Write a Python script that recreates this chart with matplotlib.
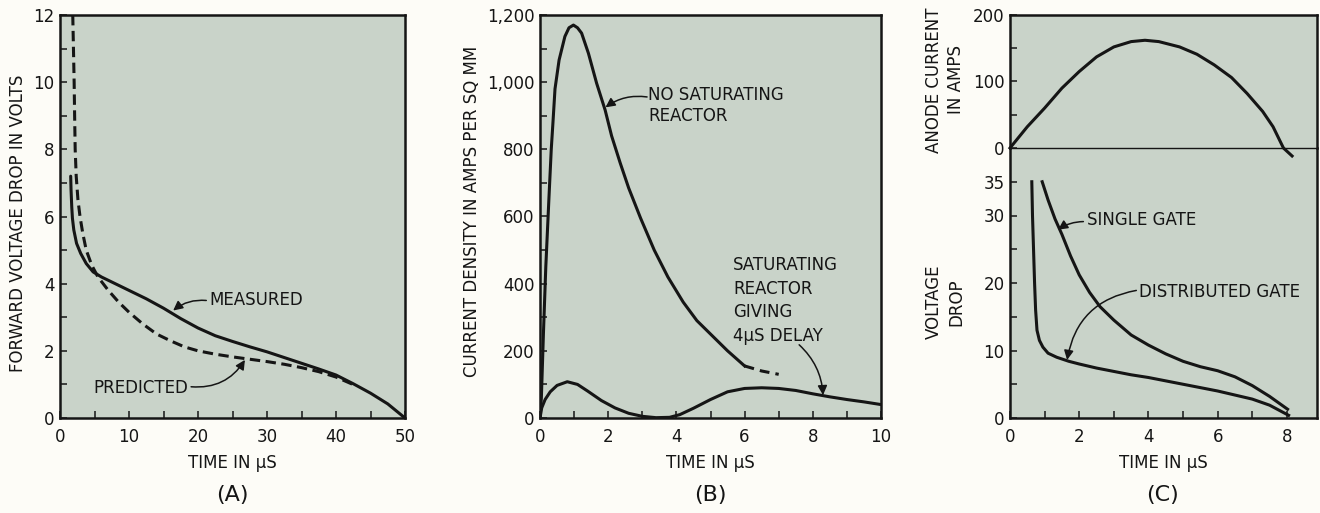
import matplotlib
matplotlib.use("Agg")
import matplotlib.pyplot as plt
from matplotlib.ticker import MultipleLocator, FixedLocator, FuncFormatter

# ---- (A) forward voltage drop vs time ----
a_meas_t = [1.55, 1.6, 1.7, 1.8, 2.0, 2.4, 3.0, 3.8, 4.8, 6.0, 8.0, 10, 12.5, 15, 17.5, 20,
            22.5, 25, 27.5, 30, 32.5, 35, 37.5, 40, 42.5, 45, 47.5, 50]
a_meas_v = [7.2, 6.8, 6.3, 5.95, 5.6, 5.2, 4.9, 4.6, 4.35, 4.2, 4.0, 3.8, 3.55, 3.27, 2.96, 2.68,
            2.45, 2.28, 2.12, 1.97, 1.8, 1.63, 1.46, 1.28, 1.02, 0.74, 0.42, 0.0]
a_pred_t = [1.85, 1.95, 2.05, 2.12, 2.2, 2.35, 2.6, 2.9, 3.3, 3.8, 4.6, 5.5, 7.0, 8.5, 10, 12,
            14, 16, 18, 20, 22.5, 25, 27.5, 30, 32.5, 35, 37.5, 40, 43]
a_pred_v = [12.0, 11.0, 10.0, 9.0, 8.0, 7.2, 6.5, 6.0, 5.5, 5.0, 4.55, 4.2, 3.8, 3.45, 3.15, 2.8,
            2.5, 2.3, 2.12, 2.0, 1.9, 1.82, 1.75, 1.68, 1.6, 1.5, 1.38, 1.22, 0.95]

# ---- (B) current density vs time ----
b_nosat_t = [0, 0.04, 0.1, 0.17, 0.26, 0.33, 0.38, 0.44, 0.56, 0.73, 0.85, 0.98, 1.1, 1.22,
             1.42, 1.66, 1.91, 2.1, 2.35, 2.6, 2.95, 3.35, 3.75, 4.2, 4.6, 5.0, 5.5, 6.0]
b_nosat_v = [0, 60, 250, 450, 650, 800, 880, 980, 1066, 1136, 1162, 1170, 1162, 1146,
             1086, 997, 917, 840, 760, 685, 595, 500, 420, 345, 290, 250, 200, 155]
b_nosat_ext_t = [6.0, 6.5, 7.0]
b_nosat_ext_v = [155, 140, 130]
b_sat_t = [0, 0.05, 0.15, 0.3, 0.5, 0.8, 1.1, 1.4, 1.8, 2.2, 2.6, 3.0, 3.4, 3.8, 4.1, 4.5, 5.0,
           5.5, 6.0, 6.5, 7.0, 7.5, 8.0, 8.5, 9.0, 9.5, 10]
b_sat_v = [0, 30, 55, 78, 97, 108, 100, 80, 52, 30, 14, 5, 1, 2, 10, 29, 55, 78, 88, 90, 88, 82,
           72, 63, 55, 48, 40]

# ---- (C) anode current and voltage drop vs time ----
c_anode_t = [0, 0.5, 1.0, 1.5, 2.0, 2.5, 3.0, 3.5, 3.9, 4.3, 4.9, 5.4, 5.9, 6.4, 6.85, 7.3, 7.6,
             7.9, 8.15]
c_anode_i = [0, 32, 60, 90, 115, 137, 152, 160, 162, 160, 152, 141, 125, 106, 82, 55, 32, 0, -12]
c_dist_t = [0.63, 0.65, 0.68, 0.71, 0.74, 0.78, 0.85, 0.95, 1.1, 1.35, 1.7, 2.0, 2.5, 3.0, 3.5,
            4.0, 4.5, 5.0, 5.5, 6.0, 6.5, 7.0, 7.5, 8.05]
c_dist_v = [35, 30, 25, 20, 16, 13, 11.5, 10.5, 9.6, 9.0, 8.4, 8.0, 7.4, 6.9, 6.4, 6.0, 5.5, 5.0,
            4.5, 4.0, 3.4, 2.8, 1.9, 0.4]
c_single_t = [0.93, 1.1, 1.3, 1.5, 1.75, 2.0, 2.3, 2.6, 3.0, 3.5, 4.0, 4.5, 5.0, 5.5, 6.0, 6.5,
              7.0, 7.5, 8.02]
c_single_v = [35, 32.3, 29.5, 27.2, 24, 21.2, 18.6, 16.5, 14.5, 12.3, 10.8, 9.5, 8.4, 7.6, 7.0,
              6.1, 4.8, 3.2, 1.3]

INK = "#151515"
PANEL = "#c9d3c9"
PAPER = "#fdfcf7"
LW = 2.2
FS = 12

plt.rcParams["font.family"] = ["DejaVu Sans"]

fig = plt.figure(figsize=(13.2, 5.13), dpi=100, facecolor=PAPER)
W, H = 1320.0, 513.0


def box(x0, y0, x1, y1):
    return [x0 / W, 1 - y1 / H, (x1 - x0) / W, (y1 - y0) / H]


def style(ax):
    ax.set_facecolor(PANEL)
    for s in ax.spines.values():
        s.set_linewidth(1.8)
        s.set_color(INK)
    ax.tick_params(which="both", direction="in", length=5, width=1.1, colors=INK,
                   labelsize=FS, top=False, right=False)
    ax.tick_params(axis="x", pad=7)
    ax.tick_params(axis="y", pad=4)


def arrow(ax, start, end, rad):
    ax.annotate("", xy=end, xytext=start,
                arrowprops=dict(arrowstyle="-|>", color=INK, lw=1.1, mutation_scale=14,
                                shrinkA=0, shrinkB=0,
                                connectionstyle=f"arc3,rad={rad}"))


# ---------------- (A) ----------------
axA = fig.add_axes(box(60, 15, 405, 418))
style(axA)
axA.set_xlim(0, 50)
axA.set_ylim(0, 12)
axA.xaxis.set_major_locator(MultipleLocator(10))
axA.xaxis.set_minor_locator(MultipleLocator(5))
axA.yaxis.set_major_locator(MultipleLocator(2))
axA.yaxis.set_minor_locator(MultipleLocator(1))
axA.plot(a_meas_t, a_meas_v, color=INK, lw=LW, solid_capstyle="round")
axA.plot(a_pred_t, a_pred_v, color=INK, lw=LW, linestyle=(0, (3.4, 1.8)))
axA.text(21.6, 3.5, "MEASURED", fontsize=FS, color=INK, va="center", ha="left")
arrow(axA, (21.2, 3.5), (16.4, 3.2), 0.2)
axA.text(4.8, 0.9, "PREDICTED", fontsize=FS, color=INK, va="center", ha="left")
arrow(axA, (19.0, 0.93), (26.8, 1.73), 0.3)

# ---------------- (B) ----------------
axB = fig.add_axes(box(540, 15, 881, 418))
style(axB)
axB.set_xlim(0, 10)
axB.set_ylim(0, 1200)
axB.xaxis.set_major_locator(MultipleLocator(2))
axB.xaxis.set_minor_locator(MultipleLocator(1))
axB.yaxis.set_major_locator(MultipleLocator(200))
axB.yaxis.set_minor_locator(MultipleLocator(100))
axB.yaxis.set_major_formatter(FuncFormatter(lambda v, p: f"{int(round(v)):,}"))
axB.plot(b_nosat_t, b_nosat_v, color=INK, lw=LW)
axB.plot(b_nosat_ext_t, b_nosat_ext_v, color=INK, lw=LW, linestyle=(0, (3.2, 2.0)))
axB.plot(b_sat_t, b_sat_v, color=INK, lw=LW)
axB.text(3.17, 930, "NO SATURATING\nREACTOR", fontsize=FS, color=INK, va="center",
         ha="left", linespacing=1.25)
arrow(axB, (3.14, 956), (1.92, 925), 0.2)
axB.text(5.67, 350, "SATURATING\nREACTOR\nGIVING\n4\u03bcS DELAY", fontsize=FS, color=INK,
         va="center", ha="left", linespacing=1.4)
arrow(axB, (7.6, 218), (8.3, 68), -0.2)

# ---------------- (C) ----------------
cx0, cx1 = 1010, 1317
axC1 = fig.add_axes(box(cx0, 15, cx1, 148))
axC2 = fig.add_axes(box(cx0, 148, cx1, 418))
style(axC1)
style(axC2)
axC1.set_zorder(3)
axC1.set_xlim(0, 8.87)
axC2.set_xlim(0, 8.87)
axC1.set_ylim(0, 200)
axC2.set_ylim(0, 40)
axC1.spines["bottom"].set_linewidth(1.0)
axC2.spines["top"].set_visible(False)
axC1.tick_params(axis="x", which="both", bottom=False, labelbottom=False)
axC1.yaxis.set_major_locator(FixedLocator([0, 100, 200]))
axC1.yaxis.set_minor_locator(FixedLocator([50, 150]))
axC2.xaxis.set_major_locator(MultipleLocator(2))
axC2.xaxis.set_minor_locator(MultipleLocator(1))
axC2.yaxis.set_major_locator(FixedLocator([0, 10, 20, 30, 35]))
axC2.yaxis.set_minor_locator(FixedLocator([5, 15, 25]))
axC1.plot(c_anode_t, c_anode_i, color=INK, lw=LW, clip_on=False)
axC2.plot(c_dist_t, c_dist_v, color=INK, lw=LW)
axC2.plot(c_single_t, c_single_v, color=INK, lw=LW)
axC2.text(2.22, 29.3, "SINGLE GATE", fontsize=FS, color=INK, va="center", ha="left")
arrow(axC2, (2.12, 29.1), (1.39, 27.9), 0.15)
axC2.text(3.72, 18.7, "DISTRIBUTED GATE", fontsize=FS, color=INK, va="center", ha="left")
arrow(axC2, (3.65, 18.9), (1.65, 8.6), 0.35)

# ---------------- axis titles and panel letters ----------------
fig.text(18 / W, 1 - 223 / H, "FORWARD VOLTAGE DROP IN VOLTS", rotation=90, fontsize=FS,
         color=INK, ha="center", va="center")
fig.text(472 / W, 1 - 211 / H, "CURRENT DENSITY IN AMPS PER SQ MM", rotation=90, fontsize=FS,
         color=INK, ha="center", va="center")
fig.text(945 / W, 1 - 80 / H, "ANODE CURRENT\nIN AMPS", rotation=90, fontsize=FS, color=INK,
         ha="center", va="center", multialignment="center", linespacing=1.3)
fig.text(945 / W, 1 - 302 / H, "VOLTAGE\nDROP", rotation=90, fontsize=FS, color=INK,
         ha="center", va="center", multialignment="center", linespacing=1.3)

for xc, letter in [(232, "(A)"), (710, "(B)"), (1163, "(C)")]:
    fig.text(xc / W, 1 - 463 / H, "TIME IN \u03bcS", fontsize=FS, color=INK, ha="center",
             va="center")
    fig.text(xc / W, 1 - 495 / H, letter, fontsize=16, color=INK, ha="center", va="center")

fig.savefig("out.png", dpi=100, facecolor=PAPER)
